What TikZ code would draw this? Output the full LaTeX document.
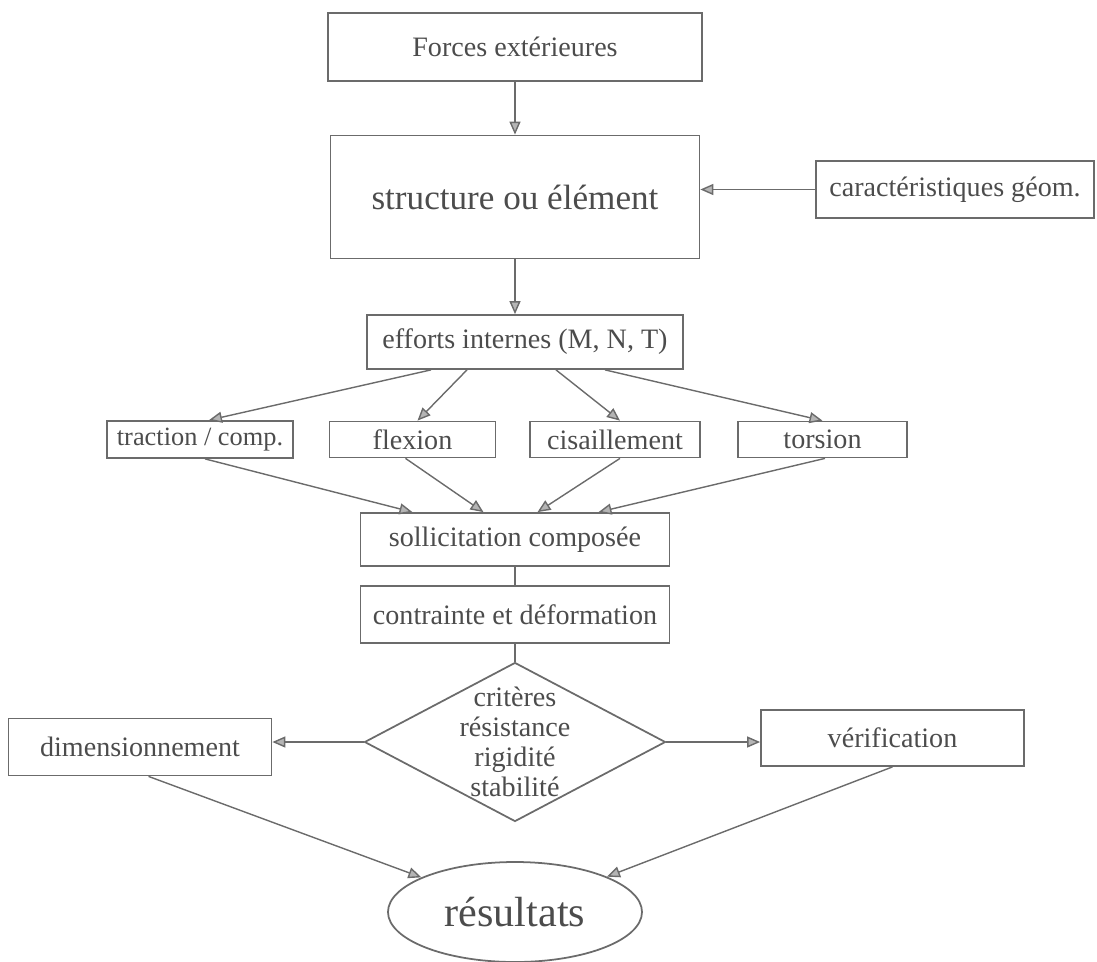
\documentclass[tikz,border=0pt]{standalone}
\usepackage{fontspec}
\setmainfont{Liberation Serif}
\usetikzlibrary{shapes.geometric,arrows.meta}
\definecolor{trait}{gray}{0.42}
\definecolor{encre}{gray}{0.3}
\begin{document}
\begin{tikzpicture}[node distance=3cm,
  boite/.style={draw=trait, line width=1pt, inner sep=0pt, text=encre, font=\fontsize{16}{17}\selectfont},
  fleche/.style={draw=trait, line width=0.8pt, -{Triangle[length=2.6mm, width=2.2mm, color=trait, fill=trait!50]}},
  lien/.style={draw=trait, line width=0.8pt}]
\useasboundingbox (-10.3,0.94) rectangle (11.64,-18.28);
\node[boite, minimum width=7.48cm, minimum height=1.36cm] (forces) {Forces extérieures};
\node[boite, minimum width=7.38cm, minimum height=2.46cm, below of=forces, font=\fontsize{20}{22}\selectfont] (structure) {structure ou élément};
\node[boite, minimum width=5.56cm, minimum height=1.14cm, right of=structure, xshift=5.8cm, yshift=0.15cm] (geom) {caractéristiques géom.};
\node[boite, minimum width=6.32cm, minimum height=1.08cm, below of=structure, xshift=0.2cm, yshift=0.1cm] (efforts) {efforts internes (M, N, T)};
\node[boite, minimum width=3.32cm, minimum height=0.72cm, below of=efforts, xshift=-2.25cm, yshift=1.05cm] (flexion) {flexion};
\node[boite, minimum width=3.4cm, minimum height=0.72cm, right of=flexion, xshift=1.05cm] (cisaillement) {cisaillement};
\node[boite, minimum width=3.38cm, minimum height=0.72cm, right of=cisaillement, xshift=1.15cm] (torsion) {torsion};
\node[boite, minimum width=3.72cm, minimum height=0.74cm, left of=flexion, xshift=-1.25cm, font=\fontsize{15}{16}\selectfont] (traction) {traction / comp.};
\node[boite, minimum width=6.18cm, minimum height=1.06cm, below of=efforts, xshift=-0.2cm, yshift=-0.95cm] (sollicitation) {sollicitation composée};
\node[boite, minimum width=6.18cm, minimum height=1.14cm, below of=sollicitation, yshift=1.5cm] (contrainte) {contrainte et déformation};
\node[boite, diamond, minimum width=6.02cm, minimum height=3.18cm, below of=contrainte, yshift=0.45cm] (criteres) {};
\node[text=encre, align=center, font=\fontsize{16}{17}\selectfont] (critexte) at (criteres) {critères\\résistance\\rigidité\\stabilité};
\node[boite, minimum width=5.26cm, minimum height=1.14cm, left of=criteres, xshift=-4.5cm, yshift=-0.1cm] (dimension) {dimensionnement};
\node[boite, minimum width=5.26cm, minimum height=1.12cm, right of=criteres, xshift=4.55cm, yshift=0.08cm] (verif) {vérification};
\node[boite, ellipse, minimum width=5.08cm, minimum height=2cm, below of=criteres, yshift=-0.4cm, font=\fontsize{24}{26}\selectfont] (resultats) {résultats};

\draw[fleche] (forces) -- (structure);
\draw[fleche] (geom.west) -- (geom.west -| structure.east);
\draw[fleche] (structure.south) -- (structure.south |- efforts.north);
\draw[fleche] ([xshift=-1.88cm]efforts.south) -- ([xshift=0.18cm]traction.north);
\draw[fleche] ([xshift=-1.16cm]efforts.south) -- ([xshift=0.1cm]flexion.north);
\draw[fleche] ([xshift=0.62cm]efforts.south) -- ([xshift=0.1cm]cisaillement.north);
\draw[fleche] ([xshift=1.6cm]efforts.south) -- (torsion.north);
\draw[fleche] ([xshift=0.1cm]traction.south) -- ([xshift=-2.05cm]sollicitation.north);
\draw[fleche] ([xshift=-0.14cm]flexion.south) -- ([xshift=-0.63cm]sollicitation.north);
\draw[fleche] ([xshift=0.1cm]cisaillement.south) -- ([xshift=0.45cm]sollicitation.north);
\draw[fleche] ([xshift=0.05cm]torsion.south) -- ([xshift=1.67cm]sollicitation.north);
\draw[lien] (sollicitation) -- (contrainte);
\draw[lien] (contrainte) -- (criteres);
\draw[fleche] (criteres.west) -- (criteres.west -| dimension.east);
\draw[fleche] (criteres.east) -- (criteres.east -| verif.west);
\draw[fleche] ([xshift=0.17cm]dimension.south) -- (resultats);
\draw[fleche] (verif.south) -- (resultats);
\end{tikzpicture}
\end{document}
